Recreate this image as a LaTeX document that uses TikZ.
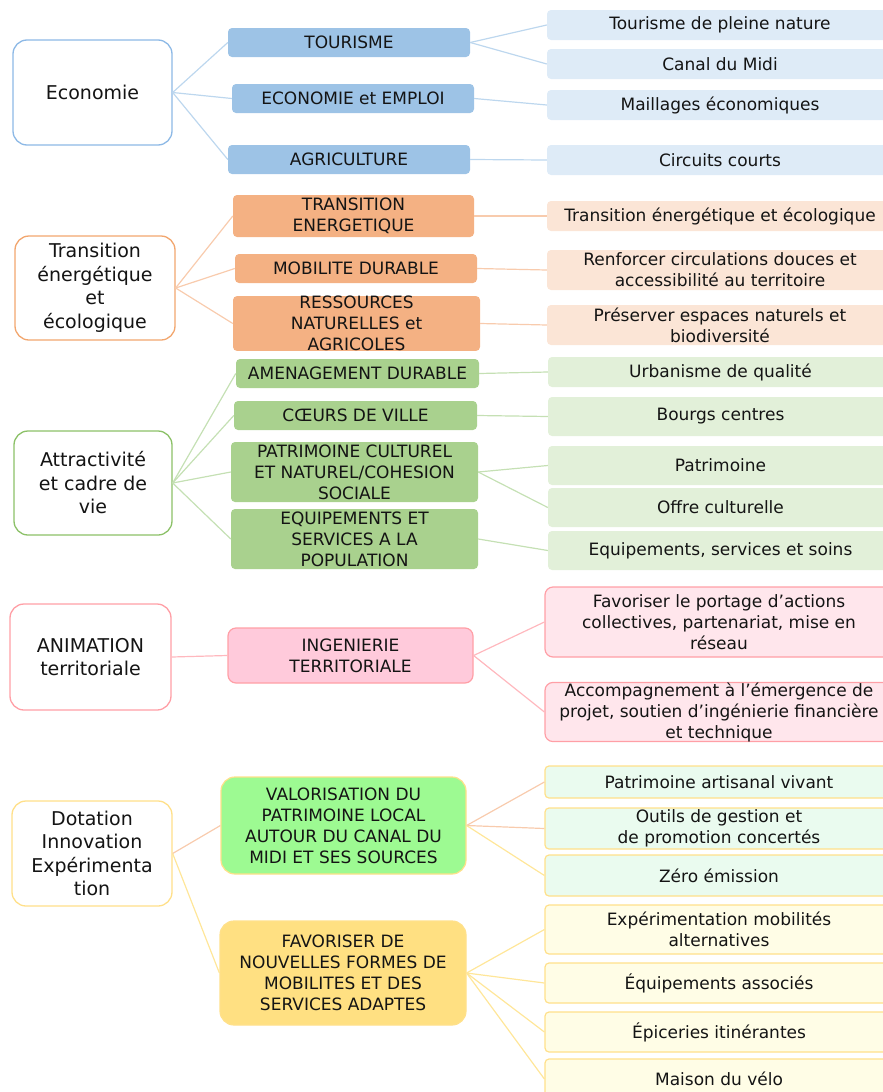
\documentclass[tikz,border=0pt]{standalone}
\usepackage{fontspec}
\setmainfont{DejaVu Sans}
\definecolor{txt}{HTML}{141414}
\definecolor{bBord}{HTML}{8DB9E6}
\definecolor{bMid}{HTML}{9DC3E6}
\definecolor{bLeaf}{HTML}{DEEBF7}
\definecolor{bLine}{HTML}{BDD7EE}
\definecolor{oBord}{HTML}{F2A66E}
\definecolor{oMid}{HTML}{F4B183}
\definecolor{oLeaf}{HTML}{FBE5D6}
\definecolor{oLine}{HTML}{F8CBAD}
\definecolor{gBord}{HTML}{8CC168}
\definecolor{gMid}{HTML}{A9D18E}
\definecolor{gLeaf}{HTML}{E2F0D9}
\definecolor{gLine}{HTML}{C5E0B4}
\definecolor{pBord}{HTML}{FF9FA6}
\definecolor{pMid}{HTML}{FFCADB}
\definecolor{pLeaf}{HTML}{FFE6EC}
\definecolor{pLine}{HTML}{FFB8BE}
\definecolor{yBord}{HTML}{FFE08A}
\definecolor{yMidG}{HTML}{9DFA92}
\definecolor{yMidY}{HTML}{FFE082}
\definecolor{yLeafG}{HTML}{EAFBEF}
\definecolor{yLeafY}{HTML}{FFFDE6}
\definecolor{yLine}{HTML}{FFE699}
\newcommand\bx[7]{\node[#6, minimum width={#4-#2}, minimum height={#5-#3}] (#1) at ({(#2+#4)/2},{(#3+#5)/2}) {#7};}
\begin{document}
\begin{tikzpicture}[x=1pt,y=-1pt,
  every node/.style={inner sep=0pt, align=center, text=txt},
  big/.style={draw=#1, fill=white, rounded corners=14pt, line width=1.3pt, font=\fontsize{19}{23.5}\selectfont},
  mid/.style={fill=#1, rounded corners=4pt, font=\fontsize{17}{21}\selectfont},
  leaf/.style={fill=#1, rounded corners=4pt, font=\fontsize{17}{21}\selectfont},
  con/.style={draw=#1, line width=1.2pt}]
\useasboundingbox (0,0) rectangle (883,1092);
% ---------- Economie ----------
\bx{eco}{13}{40}{172}{145}{big=bBord}{Economie}
\bx{tour}{228}{28}{470}{57}{mid=bMid}{TOURISME}
\bx{emp}{232}{84}{474}{113}{mid=bMid}{ECONOMIE et EMPLOI}
\bx{agri}{228}{145}{470}{174}{mid=bMid}{AGRICULTURE}
\bx{l1}{547}{10}{893}{40}{leaf=bLeaf}{Tourisme de pleine nature}
\bx{l2}{547}{49}{893}{79}{leaf=bLeaf}{Canal du Midi}
\bx{l3}{547}{90}{893}{120}{leaf=bLeaf}{Maillages économiques}
\bx{l4}{547}{145}{893}{175}{leaf=bLeaf}{Circuits courts}
\draw[con=bLine] (eco.east) -- (tour.west);
\draw[con=bLine] (eco.east) -- (emp.west);
\draw[con=bLine] (eco.east) -- (agri.west);
\draw[con=bLine] (tour.east) -- (l1.west);
\draw[con=bLine] (tour.east) -- (l2.west);
\draw[con=bLine] (emp.east) -- (l3.west);
\draw[con=bLine] (agri.east) -- (l4.west);
% ---------- Transition ----------
\bx{tra}{15}{236}{175}{340}{big=oBord}{Transition\\énergétique\\et\\écologique}
\bx{te}{233}{195}{474}{237}{mid=oMid}{TRANSITION\\ENERGETIQUE}
\bx{mob}{235}{254}{477}{283}{mid=oMid}{MOBILITE DURABLE}
\bx{res}{233}{299}{480}{348}{mid=oMid}{RESSOURCES\\NATURELLES et\\AGRICOLES}
\bx{l5}{547}{201}{893}{231}{leaf=oLeaf}{Transition énergétique et écologique}
\bx{l6}{547}{250}{893}{290}{leaf=oLeaf}{Renforcer circulations douces et\\accessibilité au territoire}
\bx{l7}{547}{305}{893}{345}{leaf=oLeaf}{Préserver espaces naturels et\\biodiversité}
\draw[con=oLine] (tra.east) -- (te.west);
\draw[con=oLine] (tra.east) -- (mob.west);
\draw[con=oLine] (tra.east) -- (res.west);
\draw[con=oLine] (te.east) -- (l5.west);
\draw[con=oLine] (mob.east) -- (l6.west);
\draw[con=oLine] (res.east) -- (l7.west);
% ---------- Attractivite ----------
\bx{att}{14}{431}{172}{535}{big=gBord}{Attractivité\\et cadre de\\vie}
\bx{ame}{236}{359}{479}{388}{mid=gMid}{AMENAGEMENT DURABLE}
\bx{coe}{234}{401}{477}{430}{mid=gMid}{CŒURS DE VILLE}
\bx{pat}{231}{442}{478}{502}{mid=gMid}{PATRIMOINE CULTUREL\\ET NATUREL/COHESION\\SOCIALE}
\bx{equ}{231}{509}{478}{569}{mid=gMid}{EQUIPEMENTS ET\\SERVICES A LA\\POPULATION}
\bx{l8}{548}{357}{893}{387}{leaf=gLeaf}{Urbanisme de qualité}
\bx{l9}{548}{397}{893}{436}{leaf=gLeaf}{Bourgs centres}
\bx{l10}{548}{446}{893}{485}{leaf=gLeaf}{Patrimoine}
\bx{l11}{548}{488}{893}{527}{leaf=gLeaf}{Offre culturelle}
\bx{l12}{548}{531}{893}{570}{leaf=gLeaf}{Equipements, services et soins}
\draw[con=gLine] (att.east) -- (ame.west);
\draw[con=gLine] (att.east) -- (coe.west);
\draw[con=gLine] (att.east) -- (pat.west);
\draw[con=gLine] (att.east) -- (equ.west);
\draw[con=gLine] (ame.east) -- (l8.west);
\draw[con=gLine] (coe.east) -- (l9.west);
\draw[con=gLine] (pat.east) -- (l10.west);
\draw[con=gLine] (pat.east) -- (l11.west);
\draw[con=gLine] (equ.east) -- (l12.west);
% ---------- Animation ----------
\bx{ani}{10}{604}{171}{710}{big=pBord}{ANIMATION\\territoriale}
\bx{ing}{228}{628}{473}{683}{mid=pMid, draw=pBord, line width=1.2pt, rounded corners=8pt}{INGENIERIE\\TERRITORIALE}
\bx{l13}{545}{587}{893}{657}{leaf=pLeaf, draw=pBord, line width=1.2pt, rounded corners=8pt}{Favoriser le portage d’actions\\collectives, partenariat, mise en\\réseau}
\bx{l14}{545}{683}{893}{741}{leaf=pLeaf, draw=pBord, line width=1.2pt, rounded corners=8pt}{Accompagnement à l’émergence de\\projet, soutien d’ingénierie financière\\et technique}
\draw[con=pLine] (ani.east) -- (ing.west);
\draw[con=pLine] (ing.east) -- (l13.west);
\draw[con=pLine] (ing.east) -- (l14.west);
% ---------- Dotation ----------
\bx{dot}{12}{801}{172}{906}{big=yBord}{Dotation\\Innovation\\Expérimenta\\tion}
\bx{val}{221}{777}{466}{874}{mid=yMidG, draw=yBord, line width=1.2pt, rounded corners=14pt}{VALORISATION DU\\PATRIMOINE LOCAL\\AUTOUR DU CANAL DU\\MIDI ET SES SOURCES}
\bx{fav}{220}{921}{466}{1025}{mid=yMidY, draw=yBord, line width=1.2pt, rounded corners=14pt}{FAVORISER DE\\NOUVELLES FORMES DE\\MOBILITES ET DES\\SERVICES ADAPTES}
\bx{l15}{545}{766}{893}{798}{leaf=yLeafG, draw=yBord, line width=1.2pt}{Patrimoine artisanal vivant}
\bx{l16}{545}{808}{893}{849}{leaf=yLeafG, draw=yBord, line width=1.2pt}{Outils de gestion et\\de promotion concertés}
\bx{l17}{545}{855}{893}{896}{leaf=yLeafG, draw=yBord, line width=1.2pt}{Zéro émission}
\bx{l18}{545}{905}{893}{954}{leaf=yLeafY, draw=yBord, line width=1.2pt}{Expérimentation mobilités\\alternatives}
\bx{l19}{545}{963}{893}{1003}{leaf=yLeafY, draw=yBord, line width=1.2pt}{Équipements associés}
\bx{l20}{545}{1012}{893}{1052}{leaf=yLeafY, draw=yBord, line width=1.2pt}{Épiceries itinérantes}
\bx{l21}{545}{1059}{893}{1099}{leaf=yLeafY, draw=yBord, line width=1.2pt}{Maison du vélo}
\draw[con=oLine] (dot.east) -- (val.west);
\draw[con=yLine] (dot.east) -- (fav.west);
\draw[con=oLine] (val.east) -- (l15.west);
\draw[con=oLine] (val.east) -- (l16.west);
\draw[con=yLine] (val.east) -- (l17.west);
\draw[con=yLine] (fav.east) -- (l18.west);
\draw[con=yLine] (fav.east) -- (l19.west);
\draw[con=yLine] (fav.east) -- (l20.west);
\draw[con=yLine] (fav.east) -- (l21.west);
\end{tikzpicture}
\end{document}
